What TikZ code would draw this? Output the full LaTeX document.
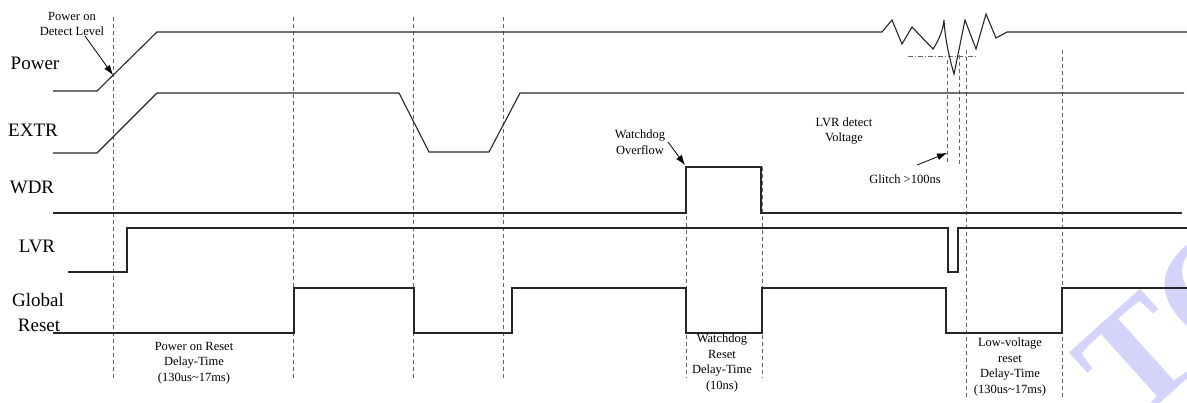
\documentclass[tikz,border=0pt]{standalone}
\usepackage{fontspec}
\setmainfont{Liberation Serif}
\usetikzlibrary{arrows.meta}
\definecolor{wm}{RGB}{212,212,250}
\tikzset{
  sig/.style={line width=1.1bp, draw=black!85, line join=miter},
  guide/.style={line width=0.7bp, draw=black!60, dash pattern=on 4bp off 3bp},
  dashdot/.style={line width=0.7bp, draw=black!60, dash pattern=on 5bp off 2bp on 1bp off 2bp},
  lbl/.style={font=\fontsize{19bp}{22bp}\selectfont, inner sep=0pt},
  note/.style={font=\fontsize{12.5bp}{15.5bp}\selectfont, inner sep=0pt, align=center},
  pointer/.style={line width=0.8bp, -{Latex[length=10bp,width=7bp]}},
}
\begin{document}
\begin{tikzpicture}[x=1bp,y=-1bp]
\useasboundingbox (0,0) rectangle (1187,402);
% watermark
\begin{scope}
  \clip (0,0) rectangle (1187,402);
  \node[text=wm, rotate=42, font=\fontsize{150bp}{150bp}\selectfont\bfseries, anchor=base west, inner sep=0pt] (wmark) at (1133,428) {TC};
\end{scope}
% guide lines
\draw[guide] (113,17) -- (113,378);
\draw[guide] (293,17) -- (293,378);
\draw[guide] (413,17) -- (413,378);
\draw[guide] (503,17) -- (503,378);
\draw[guide] (686,167) -- (686,378);
\draw[guide] (762,167) -- (762,378);
\draw[guide] (947,60) -- (947,165);
\draw[guide] (959,55) -- (959,165);
\draw[guide] (966,50) -- (966,400);
\draw[guide] (1062,50) -- (1062,400);
\draw[dashdot] (908,56) -- (976,56);
% signals
\draw[sig] (53,91) -- (97,91) -- (157,32) -- (882,32) -- (892,20) -- (902,44) -- (912,27) -- (933,49)
  .. controls (939,40) and (943,30) .. (944,20)
  .. controls (945,40) and (950,60) .. (954,74)
  -- (965,20) -- (976,49) -- (986,14) -- (996,38) -- (1007,32) -- (1187,32);
\draw[sig] (53,153) -- (97,153) -- (157,93) -- (399,93) -- (429,152) -- (489,152) -- (520,93) -- (1184,93);
\draw[sig] (53,213) -- (686,213) -- (686,167) -- (761,167) -- (761,213) -- (1182,213);
\draw[sig] (68,272) -- (127,272) -- (127,228) -- (948,228) -- (948,272) -- (958,272) -- (958,228) -- (1187,228);
\draw[sig] (53,333) -- (294,333) -- (294,288) -- (414,288) -- (414,333) -- (512,333) -- (512,288)
  -- (686,288) -- (686,333) -- (762,333) -- (762,288) -- (946,288) -- (946,333) -- (1062,333)
  -- (1062,288) -- (1187,288);
% signal labels
\node[lbl] (lpower) at (35,63) {Power};
\node[lbl] (lextr) at (33,130) {EXTR};
\node[lbl] (lwdr) at (32,187) {WDR};
\node[lbl] (llvr) at (37,246) {LVR};
\node[lbl] (lglobal) at (38,300) {Global};
\node[lbl] (lreset) at (39,325) {Reset};
% notes
\node[note] (pod) at (72,24) {Power on\\Detect Level};
\node[note] (wdo) at (640,142) {Watchdog\\Overflow};
\node[note] (lvrd) at (844,131) {LVR detect\\Voltage};
\node[note] (glitch) at (905,179) {Glitch >100ns};
\node[note] (pord) at (194,363) {Power on Reset\\Delay-Time\\(130us\textasciitilde17ms)};
\node[note] (wdrd) at (722,363) {Watchdog\\Reset\\Delay-Time\\(10ns)};
\node[note] (lvrdel) at (1010,367) {Low-voltage\\reset\\Delay-Time\\(130us\textasciitilde17ms)};
% pointers
\coordinate (podtip) at (113,75);
\coordinate (podfrom) at (85,36);
\coordinate (wdotip) at (685,165);
\coordinate (wdofrom) at (668,142);
\coordinate (gltip) at (947,153);
\coordinate (glfrom) at (917,165);
\draw[pointer] (podfrom) -- (podtip);
\draw[pointer] (wdofrom) -- (wdotip);
\draw[pointer] (glfrom) -- (gltip);
\end{tikzpicture}
\end{document}
